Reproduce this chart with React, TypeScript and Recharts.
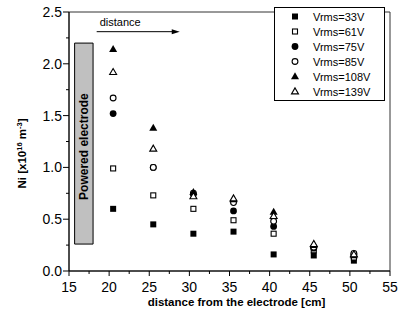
import { ScatterChart, Scatter, XAxis, YAxis, ReferenceArea, ReferenceLine, Legend } from 'recharts';

const positions = [20.5, 25.5, 30.5, 35.5, 40.5, 45.5, 50.5];

const vrms33 = [0.6, 0.45, 0.36, 0.38, 0.16, 0.15, 0.1];
const vrms61 = [0.99, 0.73, 0.6, 0.49, 0.36, 0.2, 0.13];
const vrms75 = [1.52, 1.0, 0.74, 0.58, 0.43, 0.22, 0.16];
const vrms85 = [1.67, 1.0, 0.75, 0.66, 0.48, 0.23, 0.17];
const vrms108 = [2.14, 1.38, 0.76, 0.69, 0.57, 0.25, 0.15];
const vrms139 = [1.92, 1.18, 0.72, 0.7, 0.53, 0.26, 0.16];

const seriesNames = ['Vrms=33V', 'Vrms=61V', 'Vrms=75V', 'Vrms=85V', 'Vrms=108V', 'Vrms=139V'];
const seriesShapes = ['squareFilled', 'squareOpen', 'circleFilled', 'circleOpen', 'triangleFilled', 'triangleOpen'];
const seriesValues = [vrms33, vrms61, vrms75, vrms85, vrms108, vrms139];

const xMajorTicks = [15, 20, 25, 30, 35, 40, 45, 50, 55];
const xAllTicks = [15, 17.5, 20, 22.5, 25, 27.5, 30, 32.5, 35, 37.5, 40, 42.5, 45, 47.5, 50, 52.5, 55];
const yMajorTicks = [0, 0.5, 1, 1.5, 2, 2.5];
const yAllTicks = [0, 0.25, 0.5, 0.75, 1, 1.25, 1.5, 1.75, 2, 2.25, 2.5];

const font = '"Liberation Sans", Arial, sans-serif';

function Marker({ kind, cx, cy }: { kind: string; cx: number; cy: number }) {
  const filled = kind.endsWith('Filled');
  const fill = filled ? '#000' : '#fff';
  if (kind.startsWith('square')) {
    const s = filled ? 6 : 5;
    return <rect x={cx - s / 2} y={cy - s / 2} width={s} height={s} fill={fill} stroke="#000" strokeWidth={filled ? 0 : 1.1} />;
  }
  if (kind.startsWith('circle')) {
    return <circle cx={cx} cy={cy} r={filled ? 3.4 : 2.9} fill={fill} stroke="#000" strokeWidth={filled ? 0 : 1.1} />;
  }
  const h = filled ? 7 : 6;
  const w = filled ? 4 : 3.5;
  return (
    <polygon
      points={`${cx},${cy - h * 0.6} ${cx - w},${cy + h * 0.4} ${cx + w},${cy + h * 0.4}`}
      fill={fill}
      stroke="#000"
      strokeWidth={filled ? 0 : 1.1}
    />
  );
}

function XTick({ x, y, payload }: any) {
  const major = xMajorTicks.includes(payload.value);
  return (
    <g>
      <line x1={x} x2={x} y1={y} y2={y + (major ? 5 : 3)} stroke="#000" />
      {major && (
        <text x={x} y={y + 21} textAnchor="middle" fontSize={14} fontFamily={font} fill="#000">
          {payload.value}
        </text>
      )}
    </g>
  );
}

function YTick({ x, y, payload }: any) {
  const major = yMajorTicks.includes(payload.value);
  return (
    <g>
      <line x1={x} x2={x - (major ? 6 : 3)} y1={y} y2={y} stroke="#000" />
      {major && (
        <text x={x - 7} y={y + 5} textAnchor="end" fontSize={14} fontFamily={font} fill="#000">
          {payload.value.toFixed(1)}
        </text>
      )}
    </g>
  );
}

function YLabel({ viewBox }: any) {
  const cx = viewBox.x + 26;
  const cy = viewBox.y + viewBox.height / 2 + 12;
  return (
    <text transform={`translate(${cx},${cy}) rotate(-90)`} textAnchor="middle" fontSize={11.5} fontWeight="bold" fontFamily={font} fill="#000">
      Ni [x10
      <tspan dy={-4} fontSize={7.5}>16</tspan>
      <tspan dy={4}> m</tspan>
      <tspan dy={-4} fontSize={7.5}>-3</tspan>
      <tspan dy={4}>]</tspan>
    </text>
  );
}

function XLabel({ viewBox }: any) {
  return (
    <text x={viewBox.x + viewBox.width / 2 + 7} y={viewBox.y + 35} textAnchor="middle" fontSize={11.5} fontWeight="bold" fontFamily={font} fill="#000">
      distance from the electrode [cm]
    </text>
  );
}

function ElectrodeLabel({ viewBox }: any) {
  const cx = viewBox.x + viewBox.width / 2 + 4;
  const cy = viewBox.y + viewBox.height / 2 + 3;
  return (
    <text transform={`translate(${cx},${cy}) rotate(-90)`} textAnchor="middle" fontSize={12} fontWeight="bold" fontFamily={font} fill="#000">
      Powered electrode
    </text>
  );
}

function DistanceArrow(props: any) {
  const { x1, y1, x2 } = props;
  return (
    <g>
      <line x1={x1} y1={y1} x2={x2 - 6} y2={y1} stroke="#000" strokeWidth={1} />
      <polygon points={`${x2},${y1} ${x2 - 8},${y1 - 2.5} ${x2 - 8},${y1 + 2.5}`} fill="#000" />
      <text x={x1 + 3} y={y1 - 6} fontSize={11} fontFamily={font} fill="#000">
        distance
      </text>
    </g>
  );
}

function LegendBox() {
  return (
    <div style={{ border: '1px solid #000', background: '#fff', padding: '1px 0', fontFamily: font, fontSize: 11, color: '#000' }}>
      {seriesNames.map((name, i) => (
        <div key={name} style={{ display: 'flex', alignItems: 'center', height: 15 }}>
          <svg width={38} height={15}>
            <Marker kind={seriesShapes[i]} cx={20} cy={7.5} />
          </svg>
          <span>{name}</span>
        </div>
      ))}
    </div>
  );
}

export default function App() {
  const series = seriesNames.map((name, i) => ({
    name,
    kind: seriesShapes[i],
    data: positions.map((x, j) => ({ x, y: seriesValues[i][j] })),
  }));

  return (
    <div style={{ position: 'absolute', left: 0, top: 0, background: '#fff' }}>
      <ScatterChart width={401} height={321} margin={{ top: 12, right: 11, bottom: 0, left: 0 }}>
        <XAxis
          type="number"
          dataKey="x"
          domain={[15, 55]}
          ticks={xAllTicks}
          interval={0}
          tickSize={0}
          tickMargin={0}
          tickLine={false}
          tick={<XTick />}
          axisLine={{ stroke: '#000' }}
          height={50}
          label={<XLabel />}
        />
        <YAxis
          type="number"
          dataKey="y"
          domain={[0, 2.5]}
          ticks={yAllTicks}
          interval={0}
          tickSize={0}
          tickMargin={0}
          tickLine={false}
          tick={<YTick />}
          axisLine={{ stroke: '#000' }}
          width={69}
          label={<YLabel />}
        />
        <ReferenceArea x1={15} x2={55} y1={0} y2={2.5} fill="none" stroke="#333" strokeWidth={1} />
        <ReferenceArea x1={15.7} x2={18} y1={0.26} y2={2.2} fill="#c0c0c0" fillOpacity={1} stroke="#000" strokeWidth={1} label={<ElectrodeLabel />} />
        <ReferenceLine
          segment={[
            { x: 18.45, y: 2.31 },
            { x: 28.8, y: 2.31 },
          ]}
          shape={(p: any) => <DistanceArrow {...p} />}
        />
        {series.map((s) => (
          <Scatter
            key={s.name}
            name={s.name}
            data={s.data}
            isAnimationActive={false}
            shape={(p: any) => <Marker kind={s.kind} cx={p.cx} cy={p.cy} />}
          />
        ))}
        <Legend
          layout="vertical"
          align="center"
          verticalAlign="middle"
          content={<LegendBox />}
          wrapperStyle={{ left: 274, top: 7, width: 111, height: 'auto' }}
        />
      </ScatterChart>
    </div>
  );
}
